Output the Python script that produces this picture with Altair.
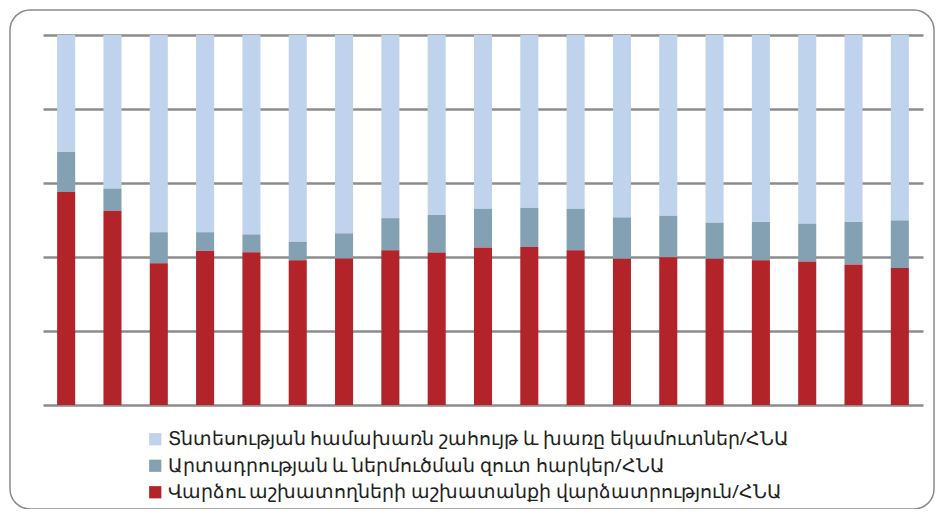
import altair as alt
import pandas as pd

categories = [str(i) for i in range(1, 20)]

series_names = [
    "Տնտեսության համախառն շահույթ և խառը եկամուտներ/ՀՆԱ",
    "Արտադրության և ներմուծման զուտ հարկեր/ՀՆԱ",
    "Վարձու աշխատողների աշխատանքի վարձատրություն/ՀՆԱ",
]

# values in % of GDP
blue_vals = [31.6, 41.5, 53.3, 53.3, 53.9, 55.9, 53.6, 49.5, 48.6, 47.0,
             46.7, 47.0, 49.3, 48.9, 50.7, 50.5, 51.0, 50.5, 50.1]
gray_vals = [10.8, 6.0, 8.4, 5.0, 4.8, 5.0, 6.8, 8.7, 10.2, 10.4,
             10.6, 11.2, 11.2, 11.2, 9.8, 10.4, 10.2, 11.5, 12.9]
red_vals = [57.6, 52.5, 38.3, 41.7, 41.3, 39.1, 39.6, 41.8, 41.2, 42.6,
            42.7, 41.8, 39.5, 39.9, 39.5, 39.1, 38.8, 38.0, 37.0]

colors = ["#bfd4ec", "#84a1b3", "#b3242a"]

rows = []
for i, c in enumerate(categories):
    for k, (name, vals) in enumerate(zip(series_names, [blue_vals, gray_vals, red_vals])):
        rows.append({"cat": c, "series": name, "value": vals[i], "order": 2 - k})
df = pd.DataFrame(rows)

bars = alt.Chart(df).mark_bar().encode(
    x=alt.X("cat:N", sort=categories, axis=None,
            scale=alt.Scale(paddingInner=0.61, paddingOuter=0.305)),
    y=alt.Y("value:Q", stack="zero",
            scale=alt.Scale(domain=[0, 100], nice=False),
            axis=alt.Axis(values=[0, 20, 40, 60, 80, 100], labels=False, ticks=False,
                          domain=False, grid=True, gridColor="#8c8c8c",
                          gridWidth=2.5, title=None)),
    color=alt.Color("series:N",
                    scale=alt.Scale(domain=series_names, range=colors),
                    legend=alt.Legend(title=None, orient="none", legendX=103, legendY=395,
                                      symbolType="square", symbolSize=150,
                                      symbolStrokeWidth=0, labelFont="Noto Sans",
                                      labelFontSize=18.5, labelColor="#222222",
                                      labelLimit=900, rowPadding=7.5, labelOffset=3)),
    order=alt.Order("order:Q", sort="ascending"),
)

frame = alt.Chart(pd.DataFrame({"a": [0]})).mark_rect(
    fill=None, stroke="#8a8a8a", strokeWidth=1.5, cornerRadius=20
).encode(
    x=alt.value(-33), x2=alt.value(891), y=alt.value(-25), y2=alt.value(474)
)

chart = alt.layer(frame, bars).properties(
    width=880, height=370,
    padding={"left": 35, "top": 27, "right": 12, "bottom": 104},
    autosize=alt.AutoSizeParams(type="none"),
    background="white",
).configure_view(stroke=None)

chart.save("out.html", embed_options={"renderer": "svg", "actions": False})
